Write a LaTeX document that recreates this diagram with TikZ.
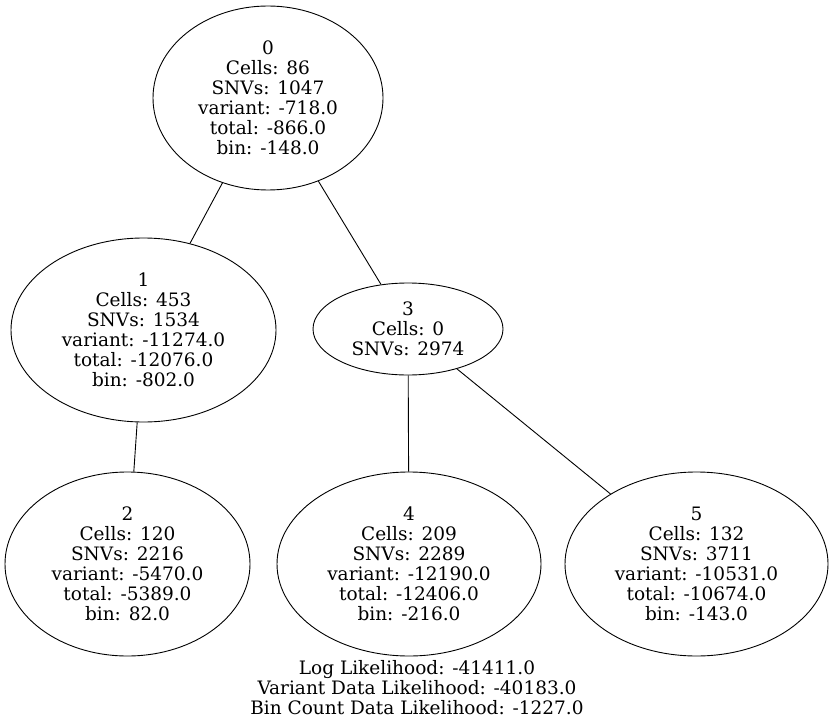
\documentclass[tikz,border=0pt]{standalone}
\usepackage{fontspec}
\setmainfont{DejaVu Serif}
\usetikzlibrary{shapes.geometric}
\begin{document}
\begin{tikzpicture}[x=1pt,y=-1pt,
  lbl/.style={align=center, inner sep=0pt, font=\fontsize{18.5}{20}\selectfont},
  tn/.style={lbl, ellipse, draw, line width=0.9pt},
  edge/.style={line width=0.9pt},
]
\useasboundingbox (0,0) rectangle (834,727);

\node[tn, minimum width=230pt, minimum height=184pt] (n0) at (268,98)
  {0\\Cells: 86\\SNVs: 1047\\variant: -718.0\\total: -866.0\\bin: -148.0};
\node[tn, minimum width=265pt, minimum height=184pt] (n1) at (143.5,330)
  {1\\Cells: 453\\SNVs: 1534\\variant: -11274.0\\total: -12076.0\\bin: -802.0};
\node[tn, minimum width=190pt, minimum height=92pt] (n3) at (408,329)
  {3\\Cells: 0\\SNVs: 2974};
\node[tn, minimum width=245pt, minimum height=184pt] (n2) at (127.5,564)
  {2\\Cells: 120\\SNVs: 2216\\variant: -5470.0\\total: -5389.0\\bin: 82.0};
\node[tn, minimum width=264pt, minimum height=184pt] (n4) at (409,564)
  {4\\Cells: 209\\SNVs: 2289\\variant: -12190.0\\total: -12406.0\\bin: -216.0};
\node[tn, minimum width=263pt, minimum height=184pt] (n5) at (696.5,564)
  {5\\Cells: 132\\SNVs: 3711\\variant: -10531.0\\total: -10674.0\\bin: -143.0};

\draw[edge] (n0) -- (n1);
\draw[edge] (n0) -- (n3);
\draw[edge] (n1) -- (n2);
\draw[edge] (n3) -- (n4);
\draw[edge] (n3) -- (n5);

\node[lbl] (ll) at (417,688)
  {Log Likelihood: -41411.0\\Variant Data Likelihood: -40183.0\\Bin Count Data Likelihood: -1227.0};
\end{tikzpicture}
\end{document}
